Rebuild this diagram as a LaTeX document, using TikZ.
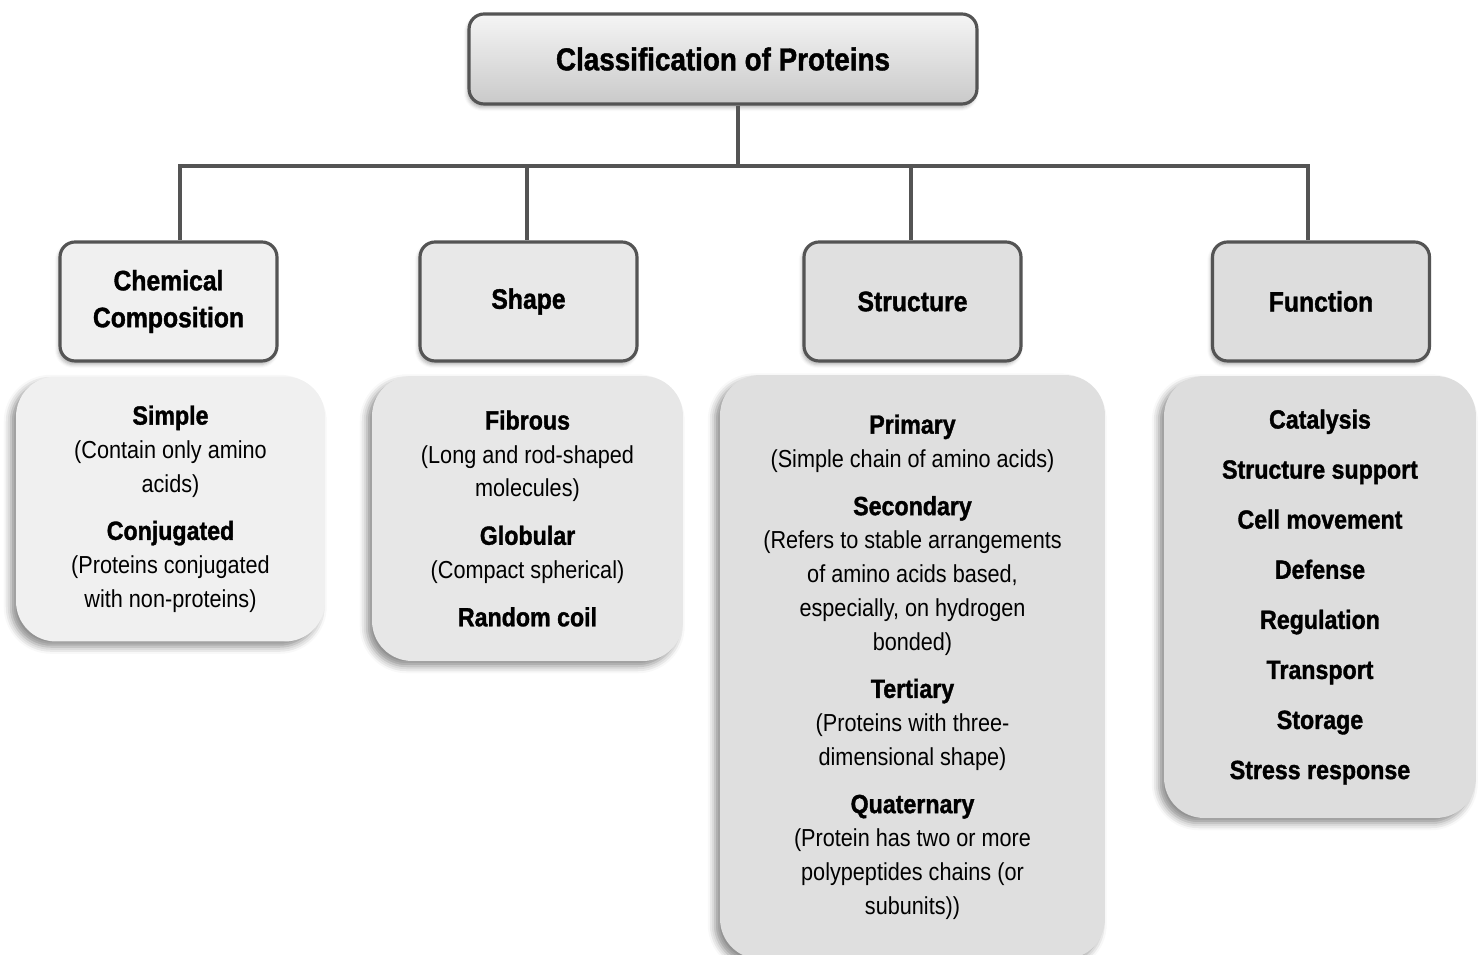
\documentclass[tikz,border=0pt]{standalone}
\usepackage{fontspec}
\setmainfont{Liberation Sans}[FakeStretch=0.88, BoldFeatures={FakeBold=1.3}]
\usetikzlibrary{shadows.blur}
\newcommand{\hd}[1]{{\fontsize{15}{19.2}\selectfont\bfseries #1}}
\begin{document}
\begin{tikzpicture}[x=0.02cm, y=-0.02cm,
  cat/.style={draw=black!67, line width=1.8pt, rounded corners=0.3cm, minimum width=4.34cm, minimum height=2.38cm, align=center, font=\fontsize{16}{21}\selectfont\bfseries, blur shadow={shadow xshift=-1pt, shadow yshift=-2pt, shadow blur radius=2pt, shadow opacity=30}},
  info/.style={rounded corners=0.8cm, align=center, font=\fontsize{14}{19.2}\selectfont, blur shadow={shadow xshift=-3pt, shadow yshift=-3pt, shadow blur radius=4pt, shadow opacity=45}},
  link/.style={draw=black!67, line width=1.9pt}]

\useasboundingbox (0,0) rectangle (1478,955);

% root
\node[cat, minimum width=10.16cm, minimum height=1.8cm, top color=gray!8, bottom color=gray!42, font=\fontsize{18}{22}\selectfont\bfseries] (root) at (723,59) {Classification of Proteins};

% classes
\node[cat, fill=gray!12] (chem) at (168.5,301.5) {Chemical\\Composition};
\node[cat, fill=gray!18] (shape) at (528.5,301.5) {Shape};
\node[cat, fill=gray!24] (struct) at (912.5,301.5) {Structure};
\node[cat, fill=gray!27] (func) at (1321,301.5) {Function};

% connectors
\coordinate (hub) at (738,166);
\draw[link] (root.south -| hub) -- (hub);
\foreach \nm/\x in {chem/180, shape/527, struct/911, func/1308} {
  \coordinate (b\nm) at (\x,166);
  \draw[link] (b\nm) -- (b\nm |- \nm.north);
}
\draw[link, line cap=rect] (bchem) -- (bfunc);

% lists
\node[info, fill=gray!12, minimum width=6.18cm, minimum height=5.3cm] (chemlist) at (170.5,509)
  {\hd{Simple}\\(Contain only amino\\acids)\\[8pt]\hd{Conjugated}\\(Proteins conjugated\\with non-proteins)};
\node[info, fill=gray!19, minimum width=6.22cm, minimum height=5.7cm] (shapelist) at (527.5,518.5)
  {\hd{Fibrous}\\(Long and rod-shaped\\molecules)\\[8pt]\hd{Globular}\\(Compact spherical)\\[8pt]\hd{Random coil}};
\node[info, fill=gray!25, minimum width=7.7cm, minimum height=11.68cm] (structlist) at (912.5,667)
  {\hd{Primary}\\(Simple chain of amino acids)\\[8pt]\hd{Secondary}\\(Refers to stable arrangements\\of amino acids based,\\especially, on hydrogen\\bonded)\\[8pt]\hd{Tertiary}\\(Proteins with three-\\dimensional shape)\\[8pt]\hd{Quaternary}\\(Protein has two or more\\polypeptides chains (or\\subunits))};
\node[info, fill=gray!27, minimum width=6.24cm, minimum height=8.84cm] (funclist) at (1320,597)
  {\hd{Catalysis}\\[9.3pt]\hd{Structure support}\\[9.3pt]\hd{Cell movement}\\[9.3pt]\hd{Defense}\\[9.3pt]\hd{Regulation}\\[9.3pt]\hd{Transport}\\[9.3pt]\hd{Storage}\\[9.3pt]\hd{Stress response}};

\end{tikzpicture}
\end{document}
